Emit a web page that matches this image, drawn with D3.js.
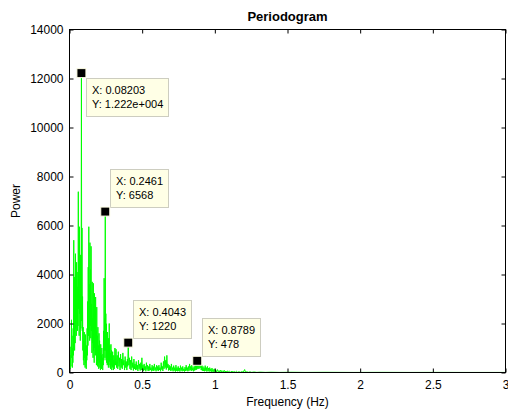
<!DOCTYPE html>
<html>
<head>
<meta charset="utf-8">
<script src="https://cdn.jsdelivr.net/npm/d3@7"></script>
<style>
  html, body { margin: 0; padding: 0; background: #ffffff; }
  svg { display: block; }
  text { font-family: "Liberation Sans", Arial, sans-serif; fill: #000; }
</style>
</head>
<body>
<svg id="chart" width="508" height="412"></svg>
<script>
// Periodogram estimate: spectral bins (spacing binWidth Hz) and their power
const binWidth = 1 / 512;
const bins = [
  0, 1, 2, 3, 4, 5, 7, 8, 9, 10, 11, 12, 13, 14, 15, 16, 17, 18, 19, 20,
  21, 22, 23, 24, 25, 26, 27, 28, 29, 30, 31, 32, 33, 34, 35, 36, 37, 38, 39, 40,
  41, 42, 43, 44, 45, 46, 47, 48, 49, 50, 51, 52, 53, 54, 55, 56, 57, 58, 59, 60,
  61, 62, 63, 64, 65, 66, 67, 68, 69, 70, 71, 72, 73, 74, 75, 76, 77, 78, 79, 80,
  81, 82, 83, 84, 85, 86, 87, 88, 89, 90, 91, 92, 93, 94, 95, 96, 97, 98, 99, 100,
  101, 102, 103, 104, 105, 106, 107, 108, 109, 110, 111, 112, 113, 114, 115, 116, 117, 118, 119, 120,
  121, 122, 123, 124, 125, 126, 127, 128, 129, 130, 131, 132, 133, 134, 135, 136, 137, 138, 139, 140,
  141, 142, 143, 144, 145, 146, 147, 148, 149, 150, 151, 152, 153, 154, 155, 156, 158, 160, 162,
  164, 166, 168, 170, 172, 174, 176, 178, 180, 182, 184, 186, 188, 190, 192, 194, 196, 198, 200,
  202, 204, 205, 207, 209, 211, 213, 215, 217, 219, 221, 223, 225, 227, 229, 231, 233, 235, 237, 239,
  241, 243, 245, 247, 249, 251, 253, 255, 257, 259, 261, 263, 265, 267, 269, 271, 273, 275, 277, 279,
  281, 283, 285, 287, 289, 291, 293, 295, 297, 299, 301, 303, 305, 307, 309, 311, 313, 315, 317, 319,
  321, 323, 325, 327, 329, 331, 333, 335, 337, 339, 341, 343, 345, 347, 349, 351, 353, 355, 357, 359,
  361, 363, 365, 367, 369, 371, 373, 375, 377, 379, 381, 383, 385, 387, 389, 391, 393, 395, 397, 399,
  401, 403, 405, 407, 409, 411, 413, 415, 417, 419, 421, 423, 425, 427, 429, 431, 433, 435, 437, 439,
  441, 443, 445, 447, 448, 450, 452, 454, 456, 458, 460, 462, 464, 466, 468, 470, 472, 474, 476, 478,
  480, 482, 484, 486, 488, 490, 492, 494, 496, 498, 500, 502, 504, 506, 508, 510, 512, 515, 518, 521,
  524, 527, 530, 533, 536, 539, 542, 545, 548, 551, 554, 557, 560, 564, 568, 572, 576, 580, 584, 588,
  592, 597, 602, 607, 612, 617, 620, 625, 630, 636, 642, 650, 660, 672, 690, 710, 740, 780, 830, 900,
  1000, 1100, 1200, 1300, 1400, 1536
];
const power = [
  1200, 300, 1050, 150, 700, 250, 2150, 600, 1500, 200, 1000, 400, 1800, 700, 5400, 1600, 3900, 900, 2600, 1200,
  4850, 1800, 3700, 1500, 4500, 2200, 4100, 1700, 3500, 1900, 7380, 2600, 4300, 1500, 5950, 2400, 3200, 1300, 4800, 1800,
  3000, 12220, 2100, 5900, 1700, 3100, 900, 1850, 500, 1300, 300, 1650, 600, 1000, 200, 1550, 400, 800, 150, 1100,
  500, 1800, 700, 2900, 1100, 4300, 1500, 5950, 2000, 3600, 1300, 5300, 1900, 4200, 1400, 5150, 1700, 2800, 800, 3700,
  1200, 2200, 600, 3640, 900, 1900, 400, 3230, 1000, 2500, 700, 3080, 800, 1700, 300, 2670, 600, 1500, 250, 1850,
  500, 1100, 150, 1600, 400, 1300, 200, 800, 100, 1150, 300, 700, 150, 1000, 250, 600, 100, 750, 300, 1700,
  500, 3850, 900, 2200, 600, 6568, 900, 2400, 500, 1990, 400, 1200, 300, 1650, 350, 900, 200, 1400, 300, 2000,
  450, 1100, 200, 800, 150, 1150, 300, 900, 100, 600, 250, 850, 200, 500, 100, 700, 150, 1000, 300,
  950, 200, 700, 150, 850, 250, 600, 100, 750, 200, 550, 150, 800, 300, 500, 100, 650, 200, 450,
  100, 550, 250, 1220, 300, 600, 150, 500, 100, 650, 200, 400, 80, 550, 150, 350, 100, 450, 120, 300,
  60, 500, 150, 350, 80, 400, 100, 600, 150, 300, 60, 350, 100, 250, 50, 400, 120, 300, 60, 250,
  80, 350, 100, 200, 50, 300, 80, 250, 60, 350, 100, 200, 50, 300, 90, 250, 60, 300, 100, 200,
  50, 400, 120, 250, 60, 450, 150, 650, 200, 500, 120, 700, 200, 350, 80, 300, 100, 250, 60, 350,
  90, 200, 50, 280, 80, 200, 40, 300, 70, 200, 50, 250, 60, 180, 40, 280, 80, 200, 50, 250,
  70, 150, 40, 220, 60, 300, 80, 200, 50, 250, 70, 350, 100, 250, 60, 300, 90, 200, 50, 250,
  80, 350, 100, 300, 120, 478, 150, 550, 150, 620, 180, 400, 100, 300, 70, 250, 60, 200, 50, 280,
  70, 200, 40, 250, 60, 180, 40, 200, 50, 150, 30, 180, 40, 120, 30, 150, 30, 100, 20, 120,
  30, 80, 20, 100, 25, 70, 15, 90, 20, 60, 15, 70, 15, 50, 10, 60, 10, 40, 10, 50,
  10, 30, 8, 40, 10, 120, 15, 30, 8, 25, 6, 20, 5, 15, 5, 12, 4, 10, 4, 8,
  3, 6, 3, 5, 2, 3
];

// Data tips on selected bins
const tipBins = [42, 126, 207, 450];
const tipPower = [12220, 6568, 1220, 478];
const tipSide = ["below", "above", "above", "above"];

const xTicks = [0, 0.5, 1, 1.5, 2, 2.5, 3];
const yTicks = [0, 2000, 4000, 6000, 8000, 10000, 12000, 14000];

const titleText = "Periodogram";
const xLabelText = "Frequency (Hz)";
const yLabelText = "Power";

const W = 508, H = 412;
const plot = { left: 69.5, right: 505.5, top: 29.5, bottom: 372.5 };

const svg = d3.select("#chart");

const x = d3.scaleLinear().domain([0, 3]).range([plot.left, plot.right]);
const y = d3.scaleLinear().domain([0, 14000]).range([plot.bottom, plot.top]);

const series = bins.map((b, i) => ({ f: b * binWidth, p: power[i] }));

svg.append("defs").append("clipPath").attr("id", "plotClip")
  .append("rect")
  .attr("x", plot.left).attr("y", plot.top)
  .attr("width", plot.right - plot.left).attr("height", plot.bottom - plot.top);

// Spectrum trace
const line = d3.line().x(d => x(d.f)).y(d => y(d.p));
svg.append("path")
  .datum(series)
  .attr("clip-path", "url(#plotClip)")
  .attr("d", line)
  .attr("fill", "none")
  .attr("stroke", "#00ff00")
  .attr("stroke-width", 1);

// Axes: labelled left/bottom, bare ticks on top/right, all pointing inward
const fmtY = d3.format("d");
const fmtX = v => String(v);

const gBottom = svg.append("g").attr("transform", `translate(0,${plot.bottom})`)
  .call(d3.axisBottom(x).tickValues(xTicks).tickFormat(fmtX).tickSizeInner(-4).tickSizeOuter(0).tickPadding(8));
const gLeft = svg.append("g").attr("transform", `translate(${plot.left},0)`)
  .call(d3.axisLeft(y).tickValues(yTicks).tickFormat(fmtY).tickSizeInner(-4).tickSizeOuter(0).tickPadding(6));
const gTop = svg.append("g").attr("transform", `translate(0,${plot.top})`)
  .call(d3.axisTop(x).tickValues(xTicks).tickFormat("").tickSizeInner(-4).tickSizeOuter(0));
const gRight = svg.append("g").attr("transform", `translate(${plot.right},0)`)
  .call(d3.axisRight(y).tickValues(yTicks).tickFormat("").tickSizeInner(-4).tickSizeOuter(0));

[gBottom, gLeft, gTop, gRight].forEach(g => {
  g.select(".domain").remove();
  g.selectAll(".tick line").attr("stroke", "#000");
  g.selectAll(".tick text").attr("font-size", 12).attr("font-family", "Liberation Sans, Arial, sans-serif").attr("fill", "#000");
});

// Axes box
svg.append("rect")
  .attr("x", plot.left).attr("y", plot.top)
  .attr("width", plot.right - plot.left).attr("height", plot.bottom - plot.top)
  .attr("fill", "none").attr("stroke", "#000").attr("stroke-width", 1);

// Title and axis labels
svg.append("text")
  .attr("x", (plot.left + plot.right) / 2).attr("y", 20.5)
  .attr("text-anchor", "middle").attr("font-size", 13).attr("font-weight", "bold")
  .text(titleText);
svg.append("text")
  .attr("x", (plot.left + plot.right) / 2).attr("y", 406)
  .attr("text-anchor", "middle").attr("font-size", 12)
  .text(xLabelText);
svg.append("text")
  .attr("transform", `translate(19.5,${(plot.top + plot.bottom) / 2}) rotate(-90)`)
  .attr("text-anchor", "middle").attr("font-size", 12)
  .text(yLabelText);

// Data tip formatting (4 significant digits, 3-digit exponent)
function fmtTip(v) {
  if (Math.abs(v) >= 1e4) {
    const [m, e] = v.toExponential(3).split("e");
    const sign = e[0] === "-" ? "-" : "+";
    const digits = e.replace(/[+-]/, "").padStart(3, "0");
    return `${m}e${sign}${digits}`;
  }
  return String(parseFloat(v.toPrecision(4)));
}

tipBins.forEach((b, i) => {
  const fx = b * binWidth, py = tipPower[i];
  const cx = x(fx), cy = y(py);
  const g = svg.append("g");
  const lines = [`X: ${fmtTip(fx)}`, `Y: ${fmtTip(py)}`];
  const boxH = 38;
  const boxX = Math.round(cx + 4.5) + 0.5;
  const boxY = tipSide[i] === "below" ? Math.round(cy + 5) + 0.5 : Math.round(cy - 4.5 - boxH) + 0.5;
  const rect = g.append("rect")
    .attr("x", boxX).attr("y", boxY).attr("height", boxH)
    .attr("fill", "#ffffe6").attr("stroke", "#cdcdc0").attr("stroke-width", 1);
  let maxW = 0;
  lines.forEach((t, k) => {
    const tx = g.append("text")
      .attr("x", boxX + 5.5).attr("y", boxY + 15.5 + k * 14)
      .attr("font-size", 11)
      .text(t);
    maxW = Math.max(maxW, tx.node().getComputedTextLength());
  });
  rect.attr("width", Math.round(maxW + 11));

  // Marker
  svg.append("rect")
    .attr("x", cx - 4.5).attr("y", cy - 4.5)
    .attr("width", 9).attr("height", 9)
    .attr("fill", "#000").attr("stroke", "#ffffe6").attr("stroke-width", 1);
});
</script>
</body>
</html>
